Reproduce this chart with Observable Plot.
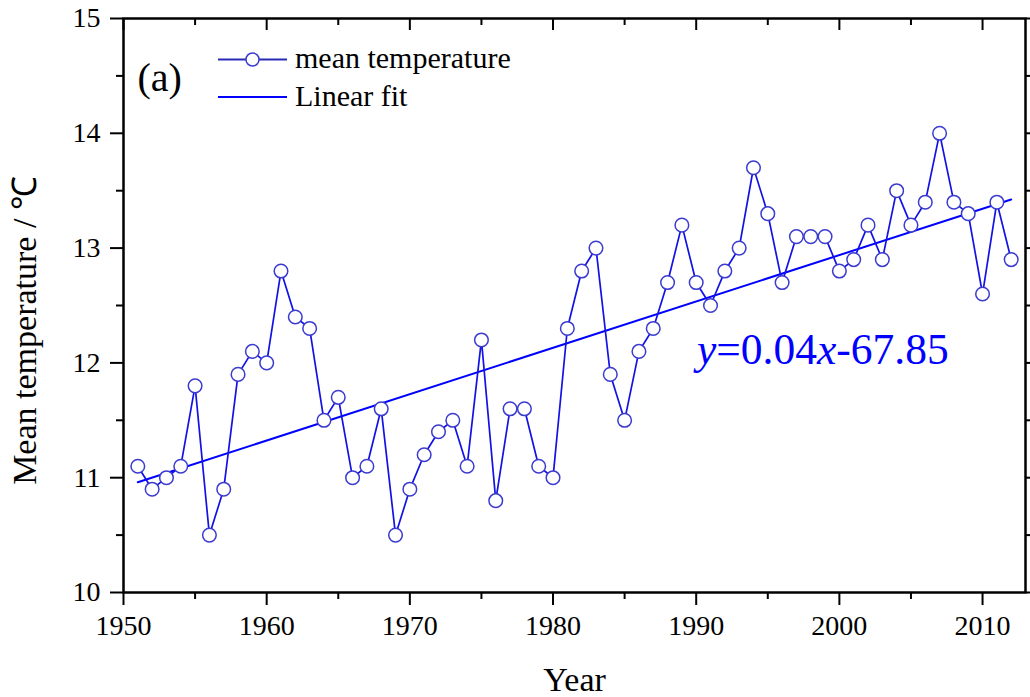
<!DOCTYPE html>
<html>
<head>
<meta charset="utf-8">
<script src="https://cdn.jsdelivr.net/npm/d3@7"></script>
<script src="https://cdn.jsdelivr.net/npm/@observablehq/plot@0.6"></script>
<style>
  html, body { margin: 0; padding: 0; background: #fff; }
  #chart { width: 1030px; height: 697px; overflow: hidden; }
</style>
</head>
<body>
<div id="chart"></div>
<script>
const years = [1951,1952,1953,1954,1955,1956,1957,1958,1959,1960,
               1961,1962,1963,1964,1965,1966,1967,1968,1969,1970,
               1971,1972,1973,1974,1975,1976,1977,1978,1979,1980,
               1981,1982,1983,1984,1985,1986,1987,1988,1989,1990,
               1991,1992,1993,1994,1995,1996,1997,1998,1999,2000,
               2001,2002,2003,2004,2005,2006,2007,2008,2009,2010,
               2011,2012];
const temps = [11.1,10.9,11.0,11.1,11.8,10.5,10.9,11.9,12.1,12.0,
               12.8,12.4,12.3,11.5,11.7,11.0,11.1,11.6,10.5,10.9,
               11.2,11.4,11.5,11.1,12.2,10.8,11.6,11.6,11.1,11.0,
               12.3,12.8,13.0,11.9,11.5,12.1,12.3,12.7,13.2,12.7,
               12.5,12.8,13.0,13.7,13.3,12.7,13.1,13.1,13.1,12.8,
               12.9,13.2,12.9,13.5,13.2,13.4,14.0,13.4,13.3,12.6,
               13.4,12.9];
const xTicks = [1950,1960,1970,1980,1990,2000,2010];
const xMinorTicks = [1955,1965,1975,1985,1995,2005];
const yTicks = [10,11,12,13,14,15];
const yMinorTicks = [10.5,11.5,12.5,13.5,14.5];
const xTitle = "Year";
const yTitle = "Mean temperature / \u2103";
const panelLabel = "(a)";
const legendLabels = ["mean temperature", "Linear fit"];
const equationParts = [["y", true], ["=0.04", false], ["x", true], ["-67.85", false]];

const data = years.map((year, i) => ({year, temp: temps[i]}));
const font = "'Liberation Serif','Times New Roman',serif";
const lineBlue = "#1212e6";
const dotBlue = "#3b3bd0";
const fitBlue = "#0000ff";
const H = 697, mTop = 18, mBottom = 105;
const plotH = H - mTop - mBottom;

const svg = Plot.plot({
  width: 1030,
  height: H,
  marginLeft: 123,
  marginRight: 5,
  marginTop: mTop,
  marginBottom: mBottom,
  style: {fontFamily: font, background: "white", color: "black"},
  x: {domain: [1950, 2013]},
  y: {domain: [10, 15]},
  marks: [
    // bottom axis (outward ticks)
    Plot.axisX({ticks: xTicks, tickSize: 13, tickPadding: 10, tickFormat: d => String(d),
                fontSize: 28, stroke: "black", fill: "black", strokeWidth: 2, label: null}),
    Plot.axisX({ticks: xMinorTicks, tickSize: 7, stroke: "black", fill: "none", strokeWidth: 2, label: null}),
    // top axis (inward ticks)
    Plot.ruleX(xTicks, {x: d => d, insetBottom: plotH - 12, stroke: "black", strokeWidth: 2}),
    Plot.ruleX(xMinorTicks, {x: d => d, insetBottom: plotH - 7, stroke: "black", strokeWidth: 2}),
    // left axis
    Plot.axisY({ticks: yTicks, tickSize: 13, tickPadding: 10, tickFormat: d => String(d),
                fontSize: 28, stroke: "black", fill: "black", strokeWidth: 2, label: null}),
    Plot.axisY({ticks: yMinorTicks, tickSize: 7, stroke: "black", fill: "none", strokeWidth: 2, label: null}),
    // right axis (outward ticks)
    Plot.axisY({anchor: "right", ticks: yTicks, tickSize: 12, stroke: "black", fill: "none", strokeWidth: 2, label: null}),
    Plot.axisY({anchor: "right", ticks: yMinorTicks, tickSize: 7, stroke: "black", fill: "none", strokeWidth: 2, label: null}),
    Plot.frame({stroke: "black", strokeWidth: 2.5}),
    // data
    Plot.linearRegressionY(data, {x: "year", y: "temp", ci: 0, stroke: fitBlue, strokeWidth: 2}),
    Plot.line(data, {x: "year", y: "temp", stroke: lineBlue, strokeWidth: 1.7}),
    Plot.dot(data, {x: "year", y: "temp", r: 6.8, fill: "white", stroke: dotBlue, strokeWidth: 1.5}),
    // titles
    Plot.text([xTitle], {frameAnchor: "bottom", dy: 98, lineAnchor: "bottom", fontSize: 34, fill: "black"}),
    Plot.text([yTitle], {frameAnchor: "left", dx: -88, dy: 25, rotate: -90, textAnchor: "middle", lineAnchor: "bottom", fontSize: 34, fill: "black"}),
    Plot.text([panelLabel], {frameAnchor: "top-left", dx: 14, dy: 72, textAnchor: "start", lineAnchor: "bottom", fontSize: 40, fill: "black"})
  ]
});

// legend
const s = d3.select(svg);
const lg = s.append("g").attr("font-family", font).attr("text-anchor", "start");
lg.append("line").attr("x1", 218).attr("x2", 287).attr("y1", 59.5).attr("y2", 59.5)
  .attr("stroke", "#2a2ab8").attr("stroke-width", 2);
lg.append("circle").attr("cx", 252.5).attr("cy", 59.5).attr("r", 6.5)
  .attr("fill", "white").attr("stroke", dotBlue).attr("stroke-width", 1.5);
lg.append("text").attr("x", 295).attr("y", 68).attr("font-size", 30).attr("fill", "black").text(legendLabels[0]);
lg.append("line").attr("x1", 218).attr("x2", 287).attr("y1", 97).attr("y2", 97)
  .attr("stroke", fitBlue).attr("stroke-width", 2);
lg.append("text").attr("x", 295).attr("y", 106).attr("font-size", 30).attr("fill", "black").text(legendLabels[1]);

// equation
const eq = s.append("text").attr("x", 697).attr("y", 364).attr("font-family", font)
  .attr("text-anchor", "start").attr("font-size", 43.5).attr("fill", fitBlue);
equationParts.forEach(([t, it]) => {
  eq.append("tspan").attr("font-style", it ? "italic" : "normal").text(t);
});

document.getElementById("chart").appendChild(svg);
</script>
</body>
</html>
